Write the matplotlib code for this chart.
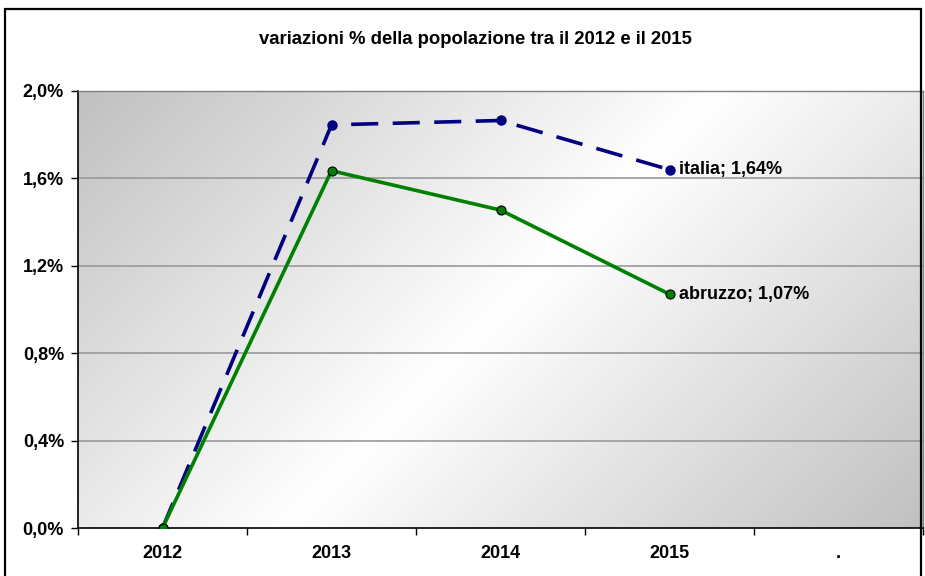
import numpy as np
import matplotlib
matplotlib.use("Agg")
import matplotlib.pyplot as plt
from matplotlib.patches import Rectangle

plt.rcParams['font.family'] = ['Liberation Sans', 'DejaVu Sans']

# dati
categorie = ["2012", "2013", "2014", "2015", "."]
italia = [0.0, 1.845, 1.865, 1.64]
abruzzo = [0.0, 1.635, 1.455, 1.07]
y_ticks = [0.0, 0.4, 0.8, 1.2, 1.6, 2.0]
y_labels = ["0,0%", "0,4%", "0,8%", "1,2%", "1,6%", "2,0%"]
titolo = "variazioni % della popolazione tra il 2012 e il 2015"

W, H = 925, 576
fig = plt.figure(figsize=(W / 100, H / 100), dpi=100)
ax = fig.add_axes([78 / W, 1 - 528 / H, (923 - 78) / W, (528 - 91) / H])

# bordo del grafico
fig.patches.append(Rectangle((5 / W, -0.1), (921 - 5) / W, 1.1 - 9 / H,
                             transform=fig.transFigure, fill=False,
                             edgecolor='black', linewidth=1.6))

# sfondo sfumato in diagonale (grigio -> bianco -> grigio)
pw, ph = 845, 437
xx, yy = np.meshgrid(np.arange(pw), np.arange(ph))
t = (xx + yy) / (pw + ph)
g = (192 + 63 * (1 - np.abs(2 * t - 1))) / 255.0
img = np.dstack([g, g, g])
ax.imshow(img, extent=[0, 1, 0, 1], transform=ax.transAxes, aspect='auto',
          zorder=0, interpolation='bilinear')

x = np.arange(len(italia))
ax.plot(x, italia, color='#000080', linewidth=2.6, dashes=(7.5, 4),
        marker='o', markersize=6.5, markerfacecolor='#000080',
        markeredgecolor='#000080', zorder=3)
ax.plot(x, abruzzo, color='#008000', linewidth=2.6,
        marker='o', markersize=6.5, markerfacecolor='#008000',
        markeredgecolor='black', markeredgewidth=0.8, zorder=4)

ax.annotate("italia; 1,64%", (x[-1], italia[-1]), xytext=(7, 0),
            textcoords='offset points', va='center', ha='left',
            fontsize=13, fontweight='bold')
ax.annotate("abruzzo; 1,07%", (x[-1], abruzzo[-1]), xytext=(7, 0),
            textcoords='offset points', va='center', ha='left',
            fontsize=13, fontweight='bold')

ax.set_xlim(-0.5, len(categorie) - 0.5)
ax.set_ylim(0, 2.0)

for yv in y_ticks[1:]:
    ax.axhline(yv, color='#999999', linewidth=1.2, zorder=1)

ax.set_yticks(y_ticks)
ax.set_yticklabels(y_labels, fontsize=13, fontweight='bold')
ax.set_xticks(np.arange(len(categorie)))
ax.set_xticklabels(categorie, fontsize=13, fontweight='bold')
ax.set_xticks(np.arange(len(categorie) + 1) - 0.5, minor=True)
ax.tick_params(axis='x', which='major', length=0, pad=12.5)
ax.tick_params(axis='x', which='minor', length=5, width=1, direction='out')
ax.tick_params(axis='y', length=5, width=1, direction='out', pad=5)

for s in ['top', 'right']:
    ax.spines[s].set_color('#808080')
    ax.spines[s].set_linewidth(1.0)
for s in ['left', 'bottom']:
    ax.spines[s].set_color('black')
    ax.spines[s].set_linewidth(1.2)

fig.text(475 / W, 1 - 40 / H, titolo, ha='center', va='center',
         fontsize=13.3, fontweight='bold')

fig.savefig("out.png", dpi=100)
